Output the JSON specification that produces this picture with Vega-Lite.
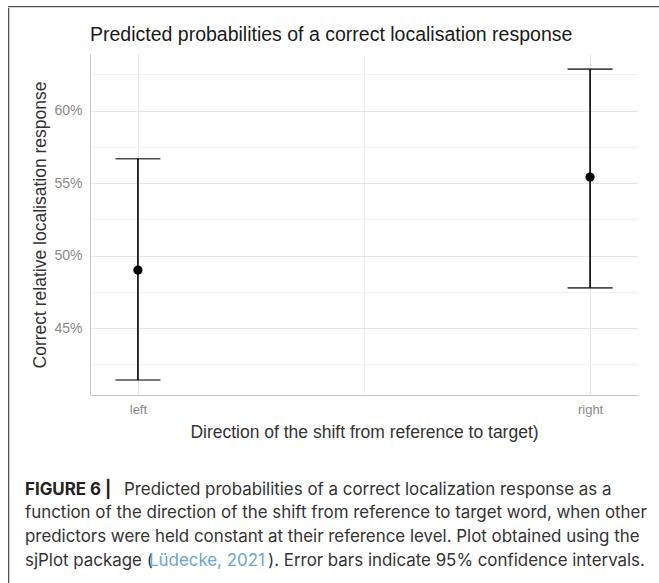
{
  "$schema": "https://vega.github.io/schema/vega-lite/v6.json",
  "padding": {"left": 8, "top": 6, "right": 0, "bottom": 0},
  "background": "white",
  "config": {
    "view": {"stroke": null},
    "font": "Liberation Sans",
    "axis": {"domainColor": "#c6c6c6", "domainWidth": 1, "ticks": false, "tickSize": 0, "labelColor": "#888888", "labelFont": "Liberation Sans", "titleFont": "Liberation Sans", "titleFontWeight": "normal", "titleColor": "#333333"}
  },
  "spacing": 0,
  "vconcat": [
    {
      "width": 700,
      "height": 1.3,
      "view": {"fill": "#555555", "stroke": null},
      "data": {"values": []},
      "mark": {"type": "point"},
      "encoding": {}
    },
    {
      "spacing": 15,
      "hconcat": [
        {
          "width": 1.3,
          "height": 600,
          "view": {"fill": "#555555", "stroke": null},
          "data": {"values": []},
          "mark": {"type": "point"},
          "encoding": {}
        },
        {
          "spacing": 6,
          "vconcat": [
            {
              "width": 548,
              "height": 40,
              "data": {"values": [{"title": "Predicted probabilities of a correct localisation response"}]},
              "mark": {"type": "text", "align": "left", "baseline": "middle", "font": "Liberation Sans", "fontSize": 19.5, "color": "#1a1a1a"},
              "encoding": {
                "x": {"datum": 0, "type": "quantitative", "scale": {"domain": [0, 1]}, "axis": null},
                "y": {"datum": 0.325, "type": "quantitative", "scale": {"domain": [0, 1]}, "axis": null},
                "text": {"field": "title"}
              }
            },
            {
              "width": 548,
              "height": 341,
              "data": {"values": [
                {"direction": "left", "code": 1, "predicted": 0.490, "conf_low": 0.4141, "conf_high": 0.5668},
                {"direction": "right", "code": 2, "predicted": 0.5541, "conf_low": 0.4777, "conf_high": 0.6286}
              ]},
              "resolve": {"axis": {"x": "independent", "y": "independent"}},
              "layer": [
                {
                  "mark": {"type": "point", "opacity": 0},
                  "encoding": {
                    "x": {"field": "code", "type": "quantitative", "scale": {"domain": [0.894, 2.106], "nice": false, "zero": false},
                          "axis": {"orient": "bottom", "values": [1.5], "labels": false, "domain": false, "grid": true, "gridColor": "#f1f1f1", "gridWidth": 1, "title": null}},
                    "y": {"field": "predicted", "type": "quantitative", "scale": {"domain": [0.4038, 0.639], "nice": false, "zero": false},
                          "axis": {"orient": "left", "values": [0.425, 0.475, 0.525, 0.575, 0.625], "labels": false, "domain": false, "grid": true, "gridColor": "#f1f1f1", "gridWidth": 1, "title": null}}
                  }
                },
                {
                  "layer": [
                    {
                      "mark": {"type": "rule", "color": "black", "strokeWidth": 1.6},
                      "encoding": {
                        "x": {"field": "code", "type": "quantitative",
                              "axis": {"orient": "bottom", "values": [1, 2], "labelExpr": "datum.value == 1 ? 'left' : 'right'", "grid": true, "gridColor": "#e4e4e4", "labelFontSize": 13, "labelPadding": 8, "titleFontSize": 17.5, "titlePadding": 7, "title": "Direction of the shift from reference to target)"}},
                        "y": {"field": "conf_low", "type": "quantitative",
                              "axis": {"orient": "left", "values": [0.45, 0.5, 0.55, 0.6], "format": ".0%", "grid": true, "gridColor": "#e4e4e4", "labelFontSize": 14, "labelPadding": 8, "titleFontSize": 17.5, "titlePadding": 4, "title": "Correct relative localisation response"}},
                        "y2": {"field": "conf_high"}
                      }
                    },
                    {
                      "mark": {"type": "tick", "color": "black", "orient": "horizontal", "size": 45, "thickness": 1.6},
                      "encoding": {
                        "x": {"field": "code", "type": "quantitative"},
                        "y": {"field": "conf_low", "type": "quantitative"}
                      }
                    },
                    {
                      "mark": {"type": "tick", "color": "black", "orient": "horizontal", "size": 45, "thickness": 1.6},
                      "encoding": {
                        "x": {"field": "code", "type": "quantitative"},
                        "y": {"field": "conf_high", "type": "quantitative"}
                      }
                    },
                    {
                      "mark": {"type": "point", "filled": true, "color": "black", "opacity": 1, "size": 85},
                      "encoding": {
                        "x": {"field": "code", "type": "quantitative"},
                        "y": {"field": "predicted", "type": "quantitative"}
                      }
                    }
                  ]
                }
              ]
            },
            {
              "width": 560,
              "height": 126,
              "data": {"values": [
                {"line": 1, "part": "bold", "text": "FIGURE 6 |"},
                {"line": 1, "part": "after_bold", "text": "Predicted probabilities of a correct localization response as a"},
                {"line": 2, "part": "plain", "text": "function of the direction of the shift from reference to target word, when other"},
                {"line": 3, "part": "plain", "text": "predictors were held constant at their reference level. Plot obtained using the"},
                {"line": 4, "part": "plain", "text": "sjPlot package ("},
                {"line": 4, "part": "link", "text": "Lüdecke, 2021"},
                {"line": 4, "part": "after_link", "text": "). Error bars indicate 95% confidence intervals."}
              ]},
              "encoding": {
                "x": {"datum": 0, "type": "quantitative", "scale": {"domain": [0, 1]}, "axis": null},
                "y": {"field": "line", "type": "ordinal", "scale": {"type": "point", "padding": 0, "range": [42.5, 113.5]}, "axis": null},
                "text": {"field": "text"}
              },
              "layer": [
                {"transform": [{"filter": "datum.part == 'bold'"}],
                 "mark": {"type": "text", "align": "left", "baseline": "middle", "font": "Inter", "fontSize": 16.9, "fontWeight": "bold", "color": "#222222", "dx": -65}},
                {"transform": [{"filter": "datum.part == 'after_bold'"}],
                 "mark": {"type": "text", "align": "left", "baseline": "middle", "font": "Inter", "fontSize": 16.9, "color": "#333333", "dx": 34}},
                {"transform": [{"filter": "datum.part == 'plain'"}],
                 "mark": {"type": "text", "align": "left", "baseline": "middle", "font": "Inter", "fontSize": 16.9, "color": "#333333", "dx": -65}},
                {"transform": [{"filter": "datum.part == 'link'"}],
                 "mark": {"type": "text", "align": "left", "baseline": "middle", "font": "Inter", "fontSize": 16.9, "color": "#6aa6d6", "dx": 59}},
                {"transform": [{"filter": "datum.part == 'after_link'"}],
                 "mark": {"type": "text", "align": "left", "baseline": "middle", "font": "Inter", "fontSize": 16.9, "color": "#333333", "dx": 178}}
              ]
            }
          ]
        }
      ]
    }
  ]
}
